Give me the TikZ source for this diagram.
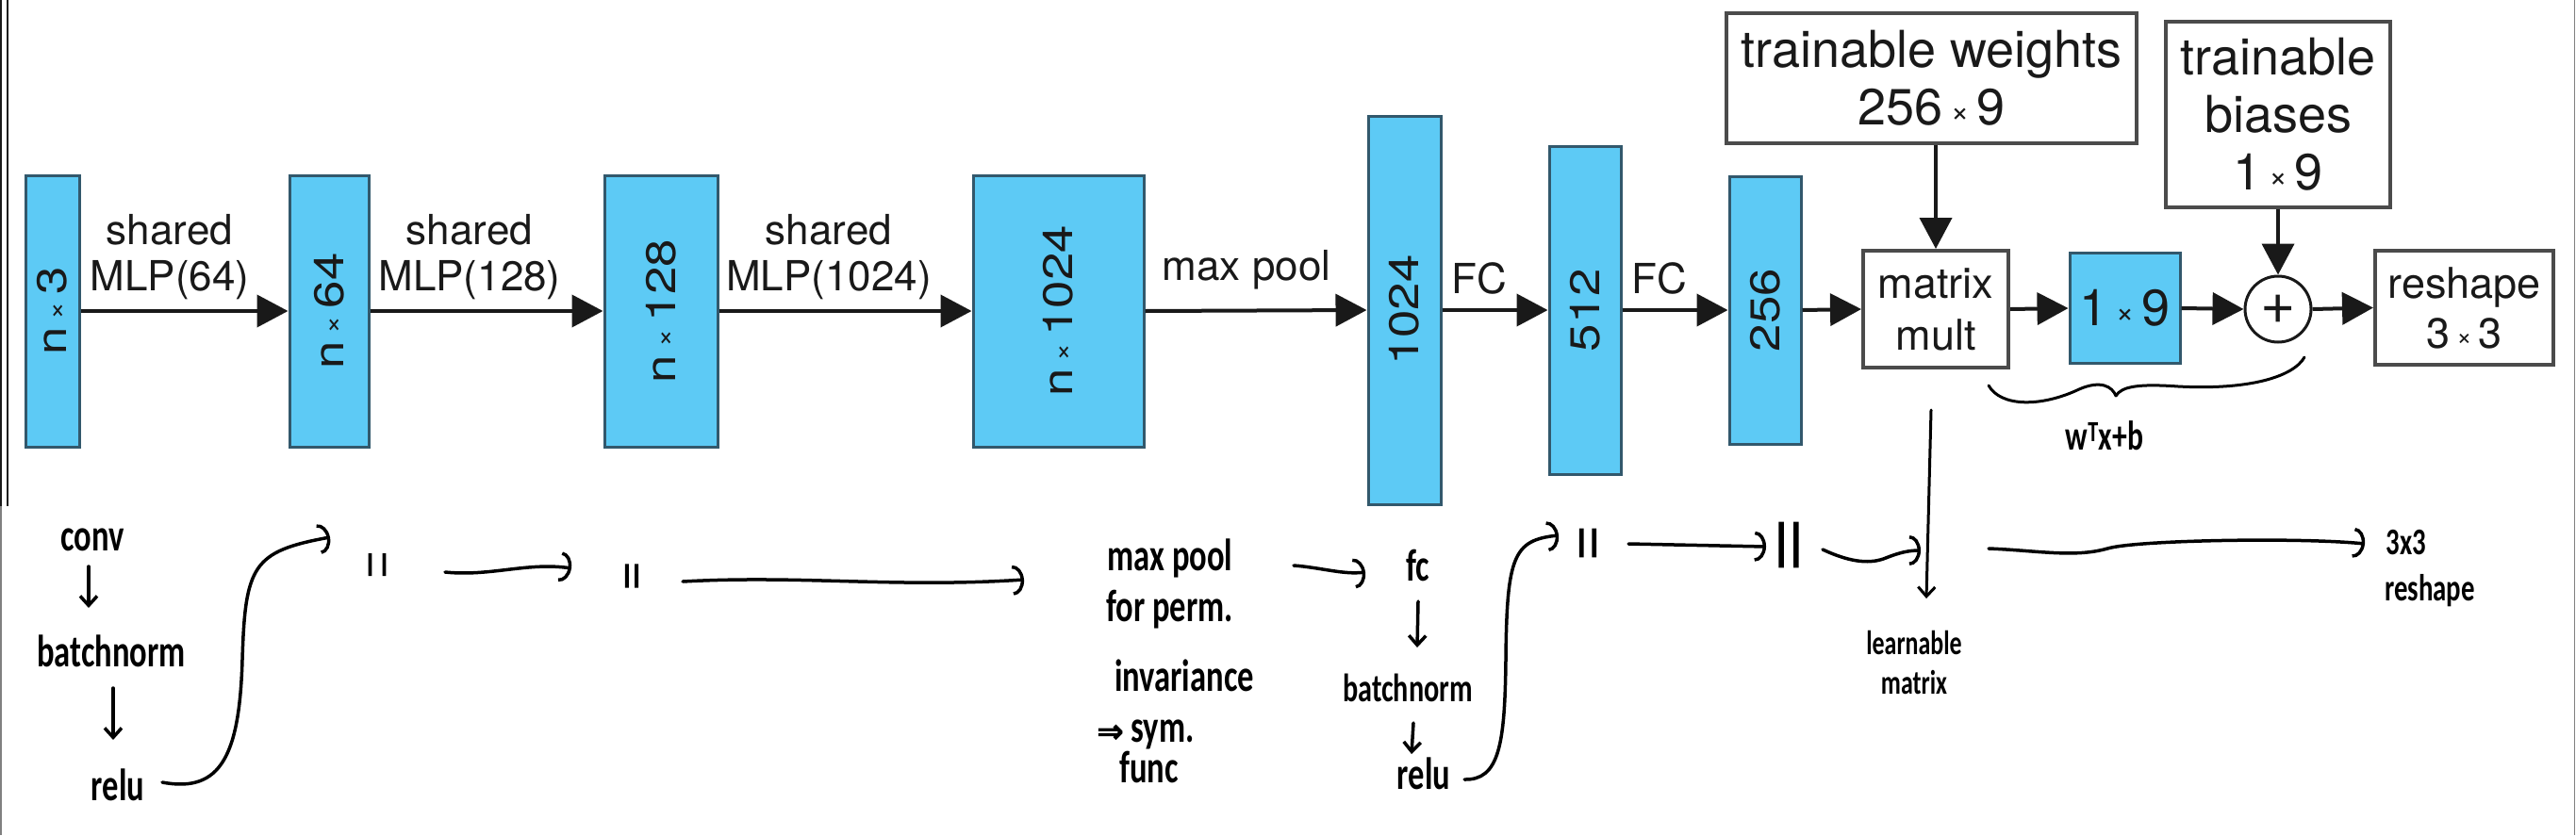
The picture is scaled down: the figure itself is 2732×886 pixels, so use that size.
\documentclass[tikz,border=0pt]{standalone}
\usepackage{graphicx}
\usepackage{fontspec}
\setmainfont{TeX Gyre Heros}
\newfontfamily\handfont[FakeStretch=0.72]{Carlito}
\newfontfamily\dittofont[FakeBold=9]{DejaVu Sans}
\newfontfamily\dittobig[FakeBold=3.5]{DejaVu Sans}
\newfontfamily\symfont[FakeBold=2]{DejaVu Sans}
\usetikzlibrary{arrows.meta}
\definecolor{cyanfill}{RGB}{93,202,245}
\definecolor{cyanline}{RGB}{50,88,108}
\definecolor{boxline}{RGB}{75,75,75}
\definecolor{ink}{RGB}{25,25,25}
\newcommand\mx{\hspace{0.15em}\raisebox{0.06em}{\scalebox{0.62}{×}}\hspace{0.15em}}
\newcommand\fs[1]{\fontsize{#1}{#1}\selectfont}
\newcommand\rl[1]{\rotatebox{90}{\scalebox{1.2}[1]{#1}}}
\begin{document}
\begin{tikzpicture}[x=1pt,y=-1pt,
  cyanblk/.style 2 args={draw=cyanline, line width=3pt, fill=cyanfill, inner sep=0pt, minimum width=#1pt, minimum height=#2pt, font=\fs{44}, text=ink},
  wbox/.style 2 args={draw=boxline, line width=4pt, fill=white, inner sep=0pt, minimum width=#1pt, minimum height=#2pt, align=center, text=ink},
  flow/.style={line width=4pt, draw=ink, -{Triangle[length=33pt,width=34pt]}},
  lab/.style={font=\fontsize{44}{49}\selectfont, align=center, text=ink, inner sep=0pt, anchor=south},
  hwf/.style={font=\handfont\bfseries\fs{48}, text=black, inner sep=2pt},
  hw/.style={hwf, text height=32pt, text depth=9pt},
  ditto/.style={font=\dittofont\fs{#1}, text=black, inner sep=0pt},
  hand/.style={line width=3.5pt, draw=black, line cap=round, line join=round},
  harr/.style={hand, -{Arc Barb[length=12pt,width=32pt]}},
  varr/.style={hand, -{Straight Barb[length=10pt,width=18pt]}}
]
\useasboundingbox (0,0) rectangle (2732,886);
\fill[white] (0,0) rectangle (2732,886);
% frame lines
\draw[line width=2.4pt, ink] (1.2,0) -- (1.2,537);
\draw[line width=2.6pt, ink] (8,0) -- (8,537);
\draw[line width=1.5pt, gray] (1,537) -- (1,886);
\draw[line width=1.5pt, gray] (2730.5,0) -- (2730.5,886);

% cyan feature blocks
\node[cyanblk={57}{288}] (b1) at (55.5,330) {\rl{n\mx3}};
\node[cyanblk={84}{288}] (b2) at (349,330) {\rl{n\mx64}};
\node[cyanblk={120}{288}] (b3) at (701,330) {\rl{n\mx128}};
\node[cyanblk={181}{288}] (b4) at (1122.5,330) {\rl{n\mx1024}};
\node[cyanblk={77}{412}] (b5) at (1489.5,329) {\rl{1024}};
\node[cyanblk={76}{348}] (b6) at (1681,329) {\rl{512}};
\node[cyanblk={76}{284}] (b7) at (1872,329) {\rl{256}};
\node[wbox={154}{124}, font=\fontsize{45}{55}\selectfont] (mm) at (2053,328) {matrix\\mult};
\node[cyanblk={117}{117}, font=\fs{54}] (v19) at (2253.5,327) {1\mx9};
\node[circle, draw=ink, line width=3pt, fill=white, minimum size=70pt, inner sep=0pt, font=\fs{64}, text=ink] (add) at (2416,328) {+};
\node[wbox={189}{121}, font=\fontsize{45}{53}\selectfont] (rs) at (2613.5,326.5) {reshape\\3\mx3};
\node[wbox={435}{138}, font=\fontsize{54}{61}\selectfont] (tw) at (2048.5,83) {trainable weights\\256\mx9};
\node[wbox={238}{197}, font=\fontsize{54}{61}\selectfont] (tb) at (2416,121.5) {trainable\\biases\\1\mx9};

% arrows
\draw[flow] (b1.east) -- (b2.west);
\draw[flow] (b2.east) -- (b3.west);
\draw[flow] (b3.east) -- (b4.west);
\draw[flow] (b4.east) -- (b5.west);
\draw[flow] (b5.east) -- (b6.west);
\draw[flow] (b6.east) -- (b7.west);
\draw[flow] (b7.east) -- (mm.west);
\draw[flow] (mm.east) -- (v19.west);
\draw[flow] (v19.east) -- (add.west);
\draw[flow] (add.east) -- (rs.west);
\draw[flow] (tw.south -| mm.north) -- (mm.north);
\draw[flow] (tb.south) -- (add.north);

% arrow labels
\node[lab] (l1) at (180,318) {shared\\MLP(64)};
\node[lab] (l2) at (498,318) {shared\\MLP(128)};
\node[lab] (l3) at (879,318) {shared\\MLP(1024)};
\node[lab] (l4) at (1322,307) {max pool};
\node[lab] (l5) at (1569,312) {FC};
\node[lab] (l6) at (1760,312) {FC};

% handwritten notes
\node[hw] (conv) at (98,573) {conv};
\node[hw] (bn1) at (118,696) {batchnorm};
\node[hw] (relu1) at (125,838) {relu};
\node[ditto=22] (d1) at (400,599) {|\hspace{0.35em}|};
\node[ditto=23] (d2) at (670,611) {|\hspace{0.1em}|};
\node[hw] (mp) at (1241,594) {max pool};
\node[hwf, align=left, anchor=north west] (mpnote) at (1161,624) {\hspace*{10pt}for perm.\\[26pt]\hspace*{19pt}invariance\\[6pt]{\symfont\fs{34}⇒} sym.\\[-5pt]\hspace*{24pt}func};
\node[hw] (fc) at (1504,605) {fc};
\node[hw, font=\handfont\bfseries\fs{42}] (bn2) at (1493,733) {batchnorm};
\node[hw] (relu2) at (1510,826) {relu};
\node[ditto=28] (d3) at (1684,576) {|\hspace{0.15em}|};
\node[font=\dittobig\fs{47}, text=black, inner sep=0pt] (d4) at (1897,578) {||};
\node[hwf, align=center, font=\handfont\bfseries\fontsize{36}{42}\selectfont] (lm) at (2030,703) {learnable\\matrix};
\node[hw, font=\handfont\bfseries\fs{40}] (t33) at (2552,577) {3x3};
\node[hw, font=\handfont\bfseries\fs{40}] (trs) at (2577,626) {reshape};
\node[hwf, font=\handfont\bfseries\fs{44}] (wtx) at (2232,462) {w\textsuperscript{T}x+b};
\coordinate (vmid) at (2037,584);
\coordinate (after) at (2109,582);

\draw[varr] ([shift={(-4,28)}]conv.center) -- ([shift={(-24,-51)}]bn1.center);
\draw[varr] ([shift={(2,34)}]bn1.center) -- ([shift={(-5,-53)}]relu1.center);
\draw[varr] ([shift={(0,33)}]fc.center) -- ([shift={(10,-46)}]bn2.center);
\draw[varr] ([shift={(6,34)}]bn2.center) -- ([shift={(-13,-26)}]relu2.center);

\draw[harr] ([shift={(47,-8)}]relu1.center) .. controls (235,842) and (254,800) .. (257,700) .. controls (260,600) and (268,585) .. ([shift={(-50,-29)}]d1.center);
\draw[harr] ([shift={(72,8)}]d1.center) .. controls (520,612) and (560,596) .. ([shift={(-64,-8)}]d2.center);
\draw[harr] ([shift={(54,6)}]d2.center) .. controls (850,610) and (950,624) .. ([shift={(-155,21)}]mp.center);
\draw[harr] ([shift={(131,6)}]mp.center) .. controls (1400,602) and (1425,610) .. ([shift={(-56,2)}]fc.center);
\draw[harr] ([shift={(43,1)}]relu2.center) .. controls (1590,828) and (1596,790) .. (1597,700) .. controls (1598,590) and (1605,573) .. ([shift={(-31,-8)}]d3.center);
\draw[harr] ([shift={(43,1)}]d3.center) -- ([shift={(-24,2)}]d4.center);
\draw[harr] ([shift={(36,5)}]d4.center) .. controls (1965,598) and (1985,598) .. (2000,592) .. controls (2015,586) and (2025,584) .. (vmid);
\draw[varr, line width=3pt] ([shift={(-5,107)}]mm.center) -- ([shift={(13,-68)}]lm.center);
\draw[harr] (after) .. controls (2160,584) and (2200,592) .. (2235,582) .. controls (2265,573) and (2440,570) .. ([shift={(-44,0)}]t33.center);
% brace under 1x9 and +
\draw[hand, line width=3pt] (2109,409) .. controls (2122,432) and (2165,432) .. (2205,413) .. controls (2228,403) and (2240,410) .. (2244,420) .. controls (2250,410) and (2268,407) .. (2310,410) .. controls (2385,414) and (2432,400) .. (2444,379);
\end{tikzpicture}
\end{document}
